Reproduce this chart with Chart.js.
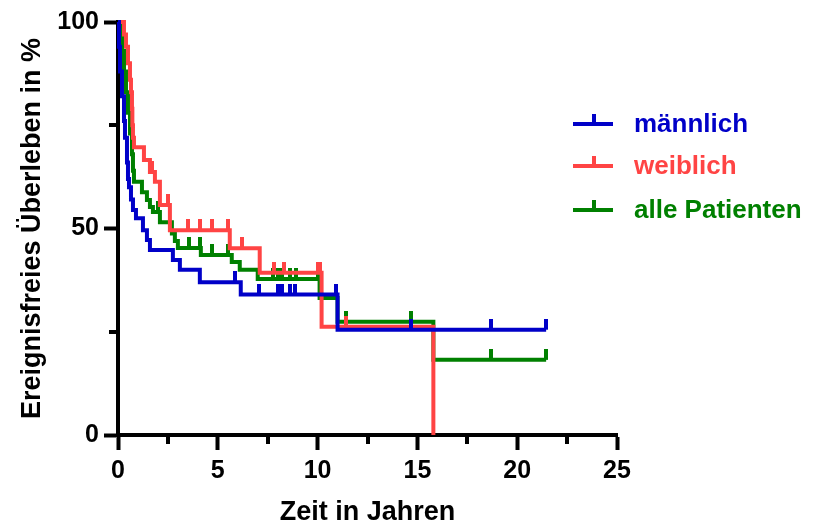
<!DOCTYPE html>
<html>
<head>
<meta charset="utf-8">
<script src="https://cdn.jsdelivr.net/npm/chart.js@4.4.1/dist/chart.umd.min.js"></script>
<style>
    html, body { margin: 0; padding: 0; background: #fff; }
    #wrap { position: relative; width: 814px; height: 526px; }
</style>
</head>
<body>
<div id="wrap"><canvas id="kmChart"></canvas></div>
<script>
// ===== Kaplan-Meier data =====
// männlich
const maleTimes = [0, 0.05, 0.1, 0.2, 0.3, 0.35, 0.45, 0.5, 0.55, 0.65, 0.75, 0.9, 1.25, 1.45, 1.6, 2.75, 3.1, 4.1, 6.15, 11.0, 21.45];
const maleSurv = [100, 94, 88, 82, 76, 72, 66, 62, 60, 57, 54.5, 52.5, 49.6, 47.2, 44.8, 42.4, 40, 37, 34, 25.5, 25.5];
const maleCensor = [5.85, 7.05, 8.0, 8.2, 8.6, 8.85, 10.9, 14.7, 18.7, 21.45];

// weiblich
const femaleTimes = [0, 0.3, 0.4, 0.5, 0.6, 0.65, 0.7, 0.72, 0.75, 0.8, 1.3, 1.6, 1.85, 2.1, 2.6, 5.6, 7.1, 10.2, 15.8];
const femaleSurv = [100, 97, 94, 90, 86, 83, 79, 75, 72, 69.7, 66.6, 63.7, 61.3, 55.7, 49.6, 45.2, 39.3, 26.2, 0];
const femaleCensor = [1.7, 2.5, 3.5, 4.1, 4.7, 5.5, 6.2, 7.8, 8.3, 10.0, 10.1, 11.4];

// alle Patienten
const allTimes = [0, 0.1, 0.2, 0.3, 0.4, 0.5, 0.6, 0.7, 0.75, 0.8, 1.2, 1.45, 1.6, 1.75, 2.1, 2.7, 2.85, 3.0, 4.15, 5.7, 6.1, 7.0, 10.1, 11.0, 15.8, 21.45];
const allSurv = [100, 97, 93, 88, 83, 78, 73, 68, 64, 61.3, 58.8, 56.9, 55.2, 54, 51.5, 48.8, 47, 45.3, 43.6, 41.9, 40, 37.8, 33.2, 27.4, 18.2, 18.2];
const allCensor = [2.0, 3.55, 4.1, 4.7, 5.5, 7.75, 8.0, 8.2, 8.6, 8.9, 10.0, 11.4, 14.7, 18.7, 21.45];

// axis ticks
const xMajorTicks = [0, 5, 10, 15, 20, 25];
const xMinorTicks = [2.5, 7.5, 12.5, 17.5, 22.5];
const yMajorTicks = [0, 50, 100];
const yMinorTicks = [25, 75];

const seriesNames = ['männlich', 'weiblich', 'alle Patienten'];
const seriesColors = ['#0000c8', '#ff4444', '#008000'];

const FONT = "'Liberation Sans', Arial, sans-serif";

// ===== Helpers =====
function toPoints(times, surv) {
    return times.map((t, i) => ({ x: t, y: surv[i] }));
}

// survival value of the step curve at time t
function survAt(times, surv, t) {
    let v = surv[0];
    for (let i = 0; i < times.length; i++) {
        if (times[i] <= t) v = surv[i];
    }
    return v;
}

function censorPoints(times, surv, censor) {
    return censor.map(t => ({ x: t, y: survAt(times, surv, t) }));
}

// small vertical tick that sits on top of the line
function tickImage(color) {
    const c = document.createElement('canvas');
    c.width = 4;
    c.height = 22;
    const g = c.getContext('2d');
    g.fillStyle = color;
    g.fillRect(0, 0, 4, 11);
    return c;
}

function stepDataset(label, color, times, surv) {
    return {
        label: label,
        data: toPoints(times, surv),
        borderColor: color,
        borderWidth: 4,
        stepped: 'before',
        pointRadius: 0,
        fill: false,
        clip: false
    };
}

function censorDataset(label, color, times, surv, censor) {
    return {
        label: label + ' censored',
        data: censorPoints(times, surv, censor),
        showLine: false,
        pointStyle: tickImage(color),
        pointRadius: 5,
        clip: false
    };
}

// ===== Minor ticks + legend plugin =====
const extrasPlugin = {
    id: 'extras',
    afterDraw(chart) {
        const ctx = chart.ctx;
        const xs = chart.scales.x;
        const ys = chart.scales.y;
        const area = chart.chartArea;
        ctx.save();
        ctx.strokeStyle = '#000';
        ctx.lineWidth = 4;
        xMinorTicks.forEach(v => {
            const px = Math.round(xs.getPixelForValue(v));
            ctx.beginPath();
            ctx.moveTo(px, area.bottom);
            ctx.lineTo(px, area.bottom + 9);
            ctx.stroke();
        });
        yMinorTicks.forEach(v => {
            const py = Math.round(ys.getPixelForValue(v));
            ctx.beginPath();
            ctx.moveTo(area.left, py);
            ctx.lineTo(area.left - 9, py);
            ctx.stroke();
        });

        // legend
        const legendY = [124, 166, 210];
        ctx.font = 'bold 26px ' + FONT;
        ctx.textBaseline = 'middle';
        ctx.textAlign = 'left';
        seriesNames.forEach((name, i) => {
            const y = legendY[i];
            ctx.fillStyle = seriesColors[i];
            ctx.fillRect(573, y - 2, 40, 4);
            ctx.fillRect(592, y - 10, 4, 10);
            ctx.fillText(name, 634, y + 1);
        });
        ctx.restore();
    }
};

// ===== Build chart =====
const ctx = document.getElementById('kmChart').getContext('2d');
new Chart(ctx, {
    type: 'line',
    data: {
        datasets: [
            stepDataset(seriesNames[0], seriesColors[0], maleTimes, maleSurv),
            censorDataset(seriesNames[0], seriesColors[0], maleTimes, maleSurv, maleCensor),
            stepDataset(seriesNames[1], seriesColors[1], femaleTimes, femaleSurv),
            censorDataset(seriesNames[1], seriesColors[1], femaleTimes, femaleSurv, femaleCensor),
            stepDataset(seriesNames[2], seriesColors[2], allTimes, allSurv),
            censorDataset(seriesNames[2], seriesColors[2], allTimes, allSurv, allCensor)
        ]
    },
    options: {
        responsive: true,
        maintainAspectRatio: false,
        animation: false,
        layout: {
            padding: { top: 22, right: 197, bottom: 0, left: 0 }
        },
        plugins: {
            legend: { display: false },
            tooltip: { enabled: false }
        },
        scales: {
            x: {
                type: 'linear',
                min: 0,
                max: 25,
                afterBuildTicks: scale => { scale.ticks = xMajorTicks.map(v => ({ value: v })); },
                afterFit: scale => { scale.height = 91; },
                border: { color: '#000', width: 4 },
                grid: { drawOnChartArea: false, tickLength: 15, tickColor: '#000', tickWidth: 4 },
                ticks: {
                    color: '#000',
                    padding: 6,
                    maxRotation: 0,
                    font: { family: FONT, size: 25, weight: 'bold' }
                },
                title: {
                    display: true,
                    text: 'Zeit in Jahren',
                    color: '#000',
                    padding: { top: 0, bottom: 0 },
                    font: { family: FONT, size: 27, weight: 'bold', lineHeight: 1 }
                }
            },
            y: {
                type: 'linear',
                min: 0,
                max: 100,
                afterBuildTicks: scale => { scale.ticks = yMajorTicks.map(v => ({ value: v })); },
                afterFit: scale => { scale.width = 118; },
                border: { color: '#000', width: 4 },
                grid: { drawOnChartArea: false, tickLength: 14, tickColor: '#000', tickWidth: 4 },
                ticks: {
                    color: '#000',
                    padding: 5,
                    font: { family: FONT, size: 25, weight: 'bold' }
                },
                title: {
                    display: true,
                    text: 'Ereignisfreies Überleben in %',
                    color: '#000',
                    padding: { top: 19, bottom: 0 },
                    font: { family: FONT, size: 27, weight: 'bold', lineHeight: 1 }
                }
            }
        }
    },
    plugins: [extrasPlugin]
});
</script>
</body>
</html>
